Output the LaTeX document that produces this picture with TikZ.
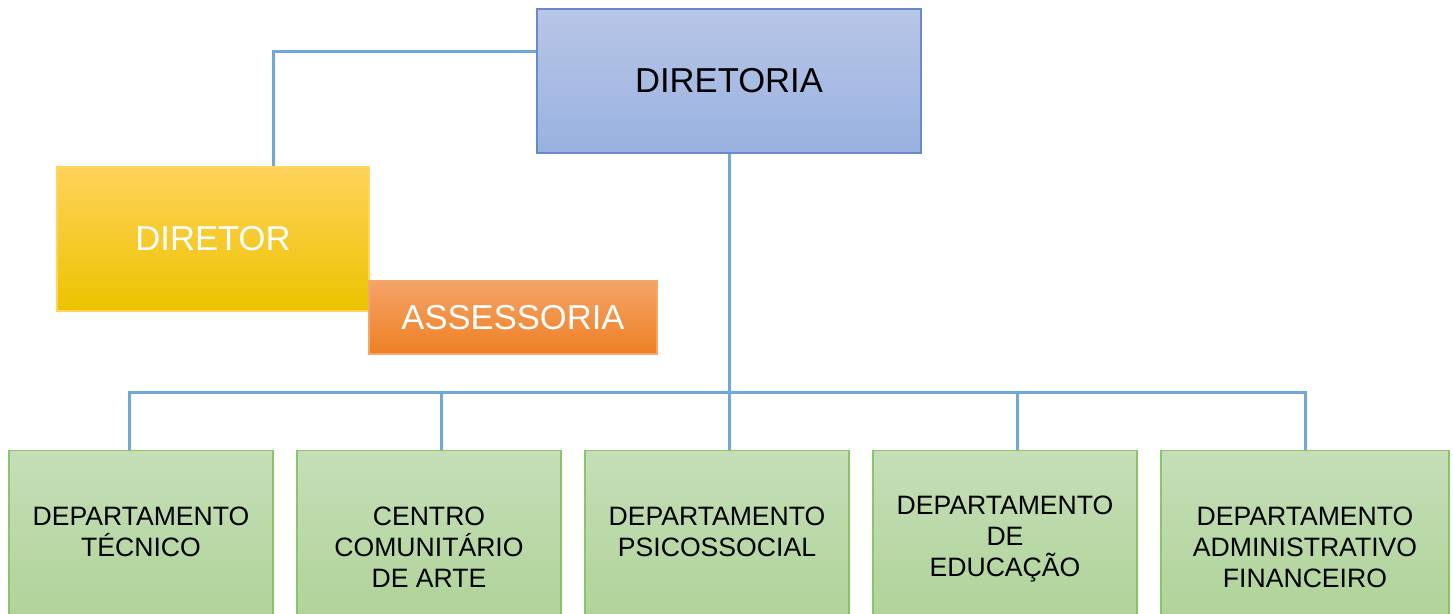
\documentclass[tikz,border=0pt]{standalone}
\usepackage{fontspec}
\setmainfont{Liberation Sans}
\usetikzlibrary{positioning}

\definecolor{linkblue}{RGB}{112,168,222}
\definecolor{boardtop}{RGB}{184,198,231}
\definecolor{boardbot}{RGB}{153,177,224}
\definecolor{boardline}{RGB}{104,138,204}
\definecolor{chieftop}{RGB}{255,210,90}
\definecolor{chiefmid}{RGB}{255,208,0}
\definecolor{chiefbot}{RGB}{236,195,0}
\definecolor{chiefline}{RGB}{255,214,90}
\definecolor{advtop}{RGB}{245,163,104}
\definecolor{advmid}{RGB}{247,141,52}
\definecolor{advbot}{RGB}{238,128,36}
\definecolor{advline}{RGB}{244,168,110}
\definecolor{depttop}{RGB}{197,222,184}
\definecolor{deptbot}{RGB}{168,208,142}
\definecolor{deptline}{RGB}{140,196,106}

\begin{document}
\begin{tikzpicture}[x=0.5pt,y=-0.5pt,
		link/.style={linkblue, line width=1.5pt},
		bigfont/.style={font=\fontsize{17.3}{21}\selectfont},
		board/.style={draw=boardline, line width=0.75pt, top color=boardtop, bottom color=boardbot, inner sep=0pt, bigfont},
		chief/.style={draw=chiefline, line width=0.75pt, top color=chieftop, middle color=chiefmid, bottom color=chiefbot, text=white, inner sep=0pt, bigfont},
		adv/.style={draw=advline, line width=0.75pt, top color=advtop, middle color=advmid, bottom color=advbot, text=white, inner sep=0pt, bigfont},
		dept/.style={draw=deptline, line width=0.75pt, top color=depttop, bottom color=deptbot, anchor=north, minimum width=132pt, minimum height=110pt, inner sep=0pt},
		depttext/.style={anchor=north, align=center, inner sep=0pt, font=\fontsize{13.3}{15.5}\selectfont}]
	
	\useasboundingbox (0,0) rectangle (1453,614);
	
	% TOP
	\node[board, minimum width=192pt, minimum height=72pt] (diretoria) at (729,81) {DIRETORIA};
	\node[chief, minimum width=156pt, minimum height=72pt] (diretor) at (213,239) {DIRETOR};
	\node[adv, minimum width=144pt, minimum height=36.5pt] (assessoria) at (513,317.5) {ASSESSORIA};
	
	\draw[link] ([yshift=14.5pt]diretoria.west) -| ([xshift=30pt]diretor.north);
	
	% DEPARTAMENTOS
	\node[dept] (d1) at (141,450) {};
	\node[dept] (d2) at (429,450) {};
	\node[dept] (d3) at (717,450) {};
	\node[dept] (d4) at (1005,450) {};
	\node[dept, minimum width=144pt] (d5) at (1305,450) {};
	
	\node[depttext, below=28.2pt of d1.north] (t1) {DEPARTAMENTO\\TÉCNICO};
	\node[depttext, below=28.2pt of d2.north] (t2) {CENTRO\\COMUNITÁRIO\\DE ARTE};
	\node[depttext, below=28.2pt of d3.north] (t3) {DEPARTAMENTO\\PSICOSSOCIAL};
	\node[depttext, below=22.8pt of d4.north] (t4) {DEPARTAMENTO\\DE\\EDUCAÇÃO};
	\node[depttext, below=28.2pt of d5.north] (t5) {DEPARTAMENTO\\ADMINISTRATIVO\\FINANCEIRO};
	
	\coordinate (bus) at (729,393);
	\draw[link] (diretoria.south) -- ([xshift=6pt]d3.north);
	\draw[link] ([xshift=-6pt]d1.north) |- (bus);
	\draw[link] ([xshift=6pt]d2.north) |- (bus);
	\draw[link] ([xshift=6pt]d4.north) |- (bus);
	\draw[link] (d5.north) |- (bus);
	
\end{tikzpicture}
\end{document}
